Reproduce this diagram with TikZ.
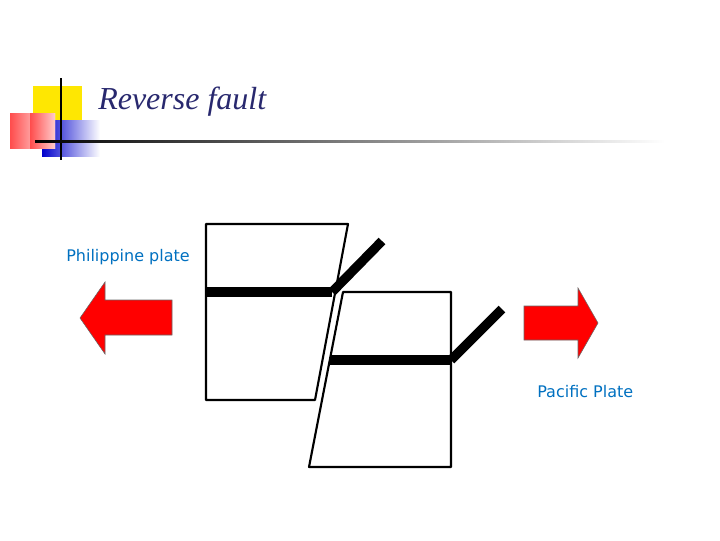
\documentclass[tikz,border=0pt]{standalone}
\usepackage{fontspec}
\setmainfont{Liberation Serif}
\newfontfamily\lblfont{DejaVu Sans}
\definecolor{lbl}{RGB}{0,112,192}
\definecolor{ttl}{RGB}{40,40,110}
\begin{document}
\begin{tikzpicture}[x=0.75pt,y=-0.75pt,
  blk/.style={line width=1.6pt,line join=round},
  bar/.style={line width=7pt},
  arr/.style={fill=red,draw=black!60,line width=0.4pt},
  lab/.style={font=\lblfont\fontsize{12}{14}\selectfont,text=lbl,anchor=west,inner sep=0}]
\useasboundingbox (0,0) rectangle (720,540);
% logo
\fill[yellow!90!orange] (33,86) rectangle (82,124);
\shade[left color=blue!80!black,right color=white] (42,120) rectangle (100,156);
\shade[left color=red!70!white,right color=white] (10,113) rectangle (55,148);
\shade[left color=red!70!white,right color=red!20!white] (30,113) rectangle (55,148);
\draw[line width=1.5pt] (61,78) -- (61,160);
\shade[left color=black,right color=white] (35,140) rectangle (665,142.5);
\node[anchor=west,inner sep=0,text=ttl,font=\itshape\fontsize{24}{28}\selectfont] (title) at (98,102) {Reverse fault};
% blocks
\draw[blk] (206,224) -- (348,224) -- (315,400) -- (206,400) -- cycle;
\draw[blk] (343,292) -- (451,292) -- (451,467) -- (309,467) -- cycle;
\draw[bar] (206,292) -- (332,292);
\draw[bar] (332,292) -- (382,241);
\draw[bar] (330,360) -- (451,360);
\draw[bar] (451,360) -- (502,309);
% arrows
\draw[arr] (80,318) -- (105,282) -- (105,300) -- (172,300) -- (172,335) -- (105,335) -- (105,354) -- cycle;
\draw[arr] (598,323) -- (578,288) -- (578,306) -- (524,306) -- (524,340) -- (578,340) -- (578,358) -- cycle;
\node[lab] (pp) at (66,257) {Philippine plate};
\node[lab] (pa) at (537,392) {Pacific Plate};
\end{tikzpicture}
\end{document}
